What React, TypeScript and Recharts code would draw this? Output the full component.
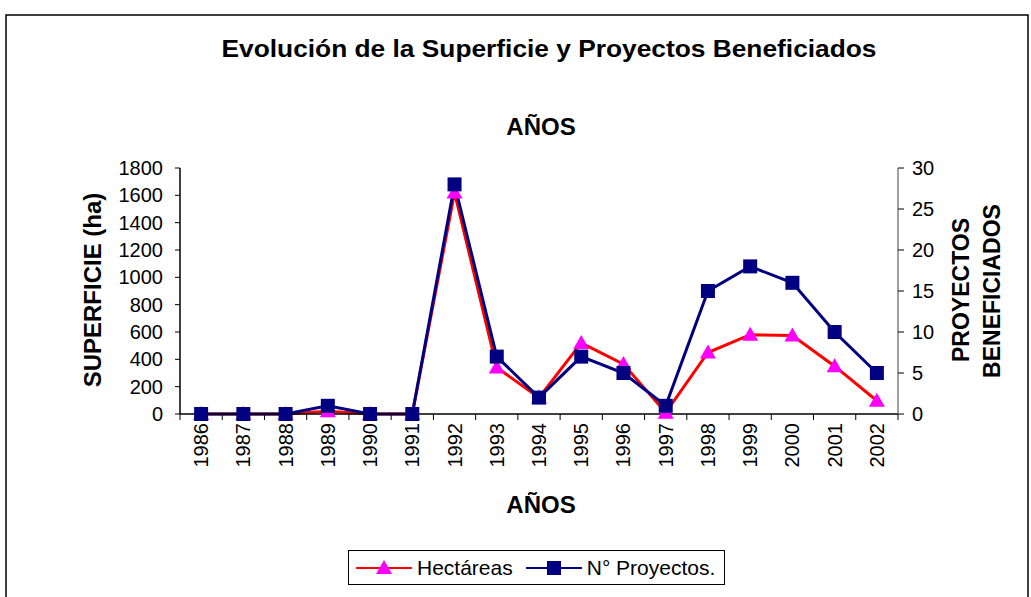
import { LineChart, Line, XAxis, YAxis, Legend } from "recharts";

const years = [
  "1986", "1987", "1988", "1989", "1990", "1991", "1992", "1993", "1994",
  "1995", "1996", "1997", "1998", "1999", "2000", "2001", "2002",
];
const hectareas = [0, 0, 0, 20, 0, 0, 1620, 340, 120, 520, 365, 10, 450, 580, 575, 350, 97];
const proyectos = [0, 0, 0, 1, 0, 0, 28, 7, 2, 7, 5, 1, 15, 18, 16, 10, 5];
const leftTicks = [0, 200, 400, 600, 800, 1000, 1200, 1400, 1600, 1800];
const rightTicks = [0, 5, 10, 15, 20, 25, 30];

const data = years.map((year, i) => ({
  year,
  hectareas: hectareas[i],
  proyectos: proyectos[i],
}));

const FONT = "'Liberation Sans', Arial, sans-serif";
const RED = "#ff0000";
const MAGENTA = "#ff00ff";
const NAVY = "#000080";

const TriangleDot = (props: any) => {
  const { cx, cy } = props;
  if (cx == null || cy == null) return null;
  return (
    <polygon
      points={`${cx},${cy - 8} ${cx - 8},${cy + 6} ${cx + 8},${cy + 6}`}
      fill={MAGENTA}
    />
  );
};

const SquareDot = (props: any) => {
  const { cx, cy } = props;
  if (cx == null || cy == null) return null;
  return <rect x={cx - 7} y={cy - 7} width={14} height={14} fill={NAVY} />;
};

const YearTick = (props: any) => {
  const { x, y, payload, index } = props;
  const half = payload?.offset || 21;
  return (
    <g>
      <line x1={x - half} y1={y} x2={x - half} y2={y + 6} stroke="#000" />
      {index === years.length - 1 && (
        <line x1={x + half} y1={y} x2={x + half} y2={y + 6} stroke="#000" />
      )}
      <text
        x={x}
        y={y + 9}
        transform={`rotate(-90 ${x} ${y + 9})`}
        textAnchor="end"
        dy="0.35em"
        fontSize={20}
        fontFamily={FONT}
        fill="#000"
      >
        {payload.value}
      </text>
    </g>
  );
};

const LegendBox = () => (
  <div
    style={{
      border: "1px solid #000",
      height: 35,
      display: "flex",
      alignItems: "center",
      fontFamily: FONT,
      fontSize: 21,
      color: "#000",
      background: "#fff",
      boxSizing: "border-box",
      paddingLeft: 6,
    }}
  >
    <svg width={58} height={20}>
      <line x1={1} y1={10} x2={57} y2={10} stroke={RED} strokeWidth={2} />
      <polygon points="29,2 21,16 37,16" fill={MAGENTA} />
    </svg>
    <span style={{ marginLeft: 4, marginRight: 12 }}>Hectáreas</span>
    <svg width={58} height={20}>
      <line x1={1} y1={10} x2={57} y2={10} stroke={NAVY} strokeWidth={2} />
      <rect x={22} y={3} width={14} height={14} fill={NAVY} />
    </svg>
    <span style={{ marginLeft: 4 }}>N° Proyectos.</span>
  </div>
);

export default function App() {
  return (
    <div style={{ position: "absolute", left: 0, top: 0, background: "#fff" }}>
      <LineChart
        width={1031}
        height={597}
        data={data}
        margin={{ top: 168, right: 0, bottom: 0, left: 0 }}
      >
        <rect x={6} y={15} width={1022} height={620} fill="none" stroke="#000" strokeWidth={1.5} />
        <text
          x={549}
          y={57}
          textAnchor="middle"
          fontSize={23}
          fontWeight="bold"
          fontFamily={FONT}
          textLength={655}
          lengthAdjust="spacingAndGlyphs"
        >
          Evolución de la Superficie y Proyectos Beneficiados
        </text>
        <text x={541} y={135} textAnchor="middle" fontSize={24} fontWeight="bold" fontFamily={FONT}>
          AÑOS
        </text>
        <text x={541} y={513} textAnchor="middle" fontSize={24} fontWeight="bold" fontFamily={FONT}>
          AÑOS
        </text>
        <text
          x={92}
          y={290}
          transform="rotate(-90 92 290)"
          textAnchor="middle"
          dominantBaseline="central"
          fontSize={24}
          fontWeight="bold"
          fontFamily={FONT}
        >
          SUPERFICIE (ha)
        </text>
        <text
          x={961}
          y={290}
          transform="rotate(-90 961 290)"
          textAnchor="middle"
          dominantBaseline="central"
          fontSize={23}
          fontWeight="bold"
          fontFamily={FONT}
        >
          PROYECTOS
        </text>
        <text
          x={992}
          y={291}
          transform="rotate(-90 992 291)"
          textAnchor="middle"
          dominantBaseline="central"
          fontSize={23}
          fontWeight="bold"
          fontFamily={FONT}
        >
          BENEFICIADOS
        </text>
        <XAxis
          dataKey="year"
          scale="band"
          interval={0}
          height={183}
          tickSize={0}
          tickMargin={0}
          tickLine={false}
          axisLine={{ stroke: "#000", strokeWidth: 1.5 }}
          tick={<YearTick />}
        />
        <YAxis
          yAxisId="left"
          width={180}
          domain={[0, 1800]}
          ticks={leftTicks}
          interval={0}
          tickSize={5}
          tickMargin={12}
          axisLine={{ stroke: "#000", strokeWidth: 1.5 }}
          tickLine={{ stroke: "#000" }}
          tick={{ fill: "#000", fontSize: 20, fontFamily: FONT }}
        />
        <YAxis
          yAxisId="right"
          orientation="right"
          width={133}
          domain={[0, 30]}
          ticks={rightTicks}
          interval={0}
          tickSize={6}
          tickMargin={8}
          axisLine={{ stroke: "#808080", strokeWidth: 1.5 }}
          tickLine={{ stroke: "#000" }}
          tick={{ fill: "#000", fontSize: 20, fontFamily: FONT }}
        />
        <Legend
          layout="vertical"
          align="center"
          verticalAlign="middle"
          wrapperStyle={{ left: 348, top: 550, width: 377, height: 35 }}
          content={() => <LegendBox />}
        />
        <Line
          yAxisId="left"
          dataKey="hectareas"
          name="Hectáreas"
          stroke={RED}
          strokeWidth={3}
          dot={<TriangleDot />}
          activeDot={false}
          isAnimationActive={false}
        />
        <Line
          yAxisId="right"
          dataKey="proyectos"
          name="N° Proyectos."
          stroke={NAVY}
          strokeWidth={3}
          dot={<SquareDot />}
          activeDot={false}
          isAnimationActive={false}
        />
      </LineChart>
    </div>
  );
}
